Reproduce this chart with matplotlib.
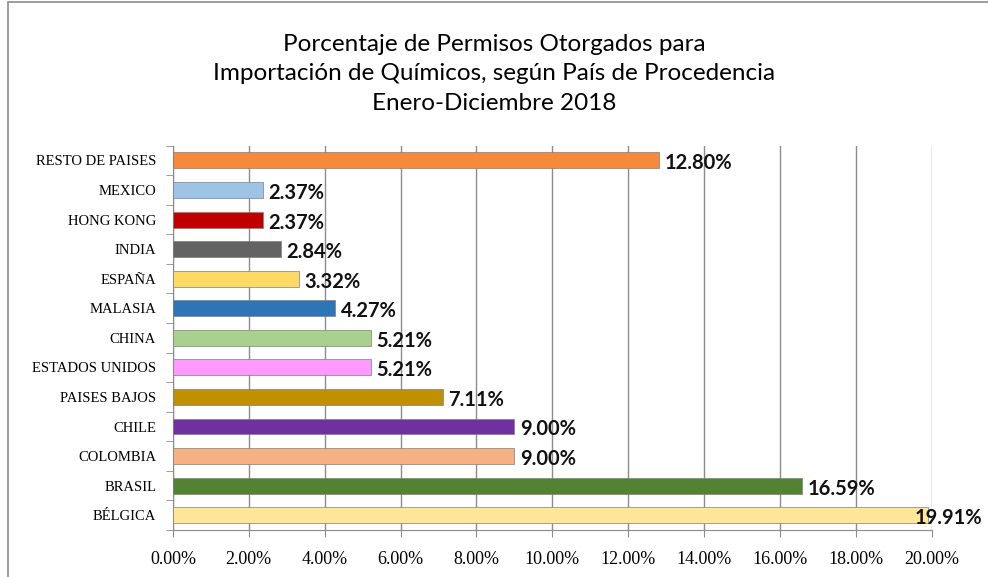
import matplotlib.pyplot as plt
from matplotlib.patches import Rectangle
import numpy as np

paises = ['BÉLGICA', 'BRASIL', 'COLOMBIA', 'CHILE', 'PAISES BAJOS', 'ESTADOS UNIDOS',
          'CHINA', 'MALASIA', 'ESPAÑA', 'INDIA', 'HONG KONG', 'MEXICO', 'RESTO DE PAISES']
porcentajes = [19.91, 16.59, 9.00, 9.00, 7.11, 5.21, 5.21, 4.27, 3.32, 2.84, 2.37, 2.37, 12.80]
colores = ['#FFE699', '#548235', '#F4B183', '#7030A0', '#BF9000', '#FF99FF',
           '#A9D18E', '#2E75B6', '#FFD966', '#636363', '#C00000', '#9DC3E6', '#F58A3C']
ticks_x = [0, 2, 4, 6, 8, 10, 12, 14, 16, 18, 20]

fig = plt.figure(figsize=(9.88, 5.77), dpi=100)
fig.patches.append(Rectangle((0.008, -0.01), 1.1, 1.006, transform=fig.transFigure,
                             fill=False, edgecolor='#8c8c8c', linewidth=1.2))
ax = fig.add_axes([0.175, 0.0815, 0.768, 0.666])

y = np.arange(len(paises))
ax.barh(y, porcentajes, height=0.54, color=colores, edgecolor='#7f7f7f',
        linewidth=0.5, zorder=3)

for yi, v in zip(y, porcentajes):
    # la etiqueta de la barra mas larga se monta sobre el final de la barra
    x = v - 0.35 if v > 19 else v + 0.15
    ax.text(x, yi - 0.1, '%.2f%%' % v, va='center', ha='left',
            fontsize=14.5, fontweight='bold', family='Lato', color='#111111', zorder=4)

ax.set_xlim(0, 20)
ax.set_ylim(-0.5, len(paises) - 0.5)
ax.set_xticks(ticks_x)
ax.set_xticklabels(['%.2f%%' % t for t in ticks_x], fontsize=13, family='Liberation Serif')
ax.set_yticks(y)
ax.set_yticklabels(paises, fontsize=10.5, family='Liberation Serif')
ax.set_yticks(np.arange(-0.5, len(paises), 1), minor=True)
ax.tick_params(axis='y', which='major', length=0, pad=12)
ax.tick_params(axis='y', which='minor', length=5, color='#8c8c8c')
ax.tick_params(axis='x', length=5, color='#8c8c8c', pad=10)

ax.grid(axis='x', color='#8c8c8c', linewidth=1, zorder=0)
for s in ['top', 'right']:
    ax.spines[s].set_visible(False)
ax.spines['left'].set_color('#8c8c8c')
ax.spines['bottom'].set_color('#8c8c8c')

fig.text(0.5, 0.872, 'Porcentaje de Permisos Otorgados para\nImportación de Químicos, según País de Procedencia\nEnero-Diciembre 2018',
         ha='center', va='center', fontsize=17.5, family='Lato', linespacing=1.5)

fig.savefig('out.png', dpi=100)
